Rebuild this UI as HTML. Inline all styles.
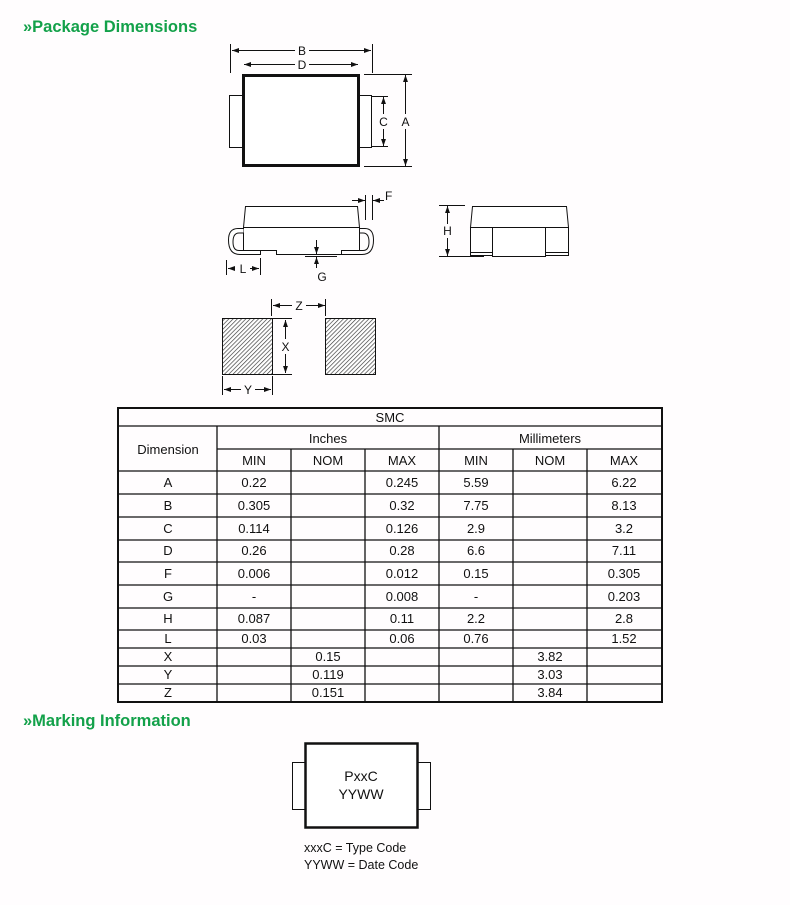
<!DOCTYPE html>
<html><head><meta charset="utf-8"><style>
html,body{margin:0;padding:0;background:#fffdfe;}
svg{display:block;font-family:"Liberation Sans",Arial,sans-serif;}
</style></head><body>
<svg width="790" height="905" viewBox="0 0 790 905" xmlns="http://www.w3.org/2000/svg">
<defs>
<marker id="ar" viewBox="0 0 10 10" refX="10" refY="5" markerWidth="7" markerHeight="7" orient="auto-start-reverse"><path d="M0,1.5 L10,5 L0,8.5 z" fill="#111"/></marker>
<pattern id="hat" width="3" height="3" patternUnits="userSpaceOnUse" patternTransform="rotate(45)"><rect width="3" height="3" fill="#fff"/><line x1="0" y1="0" x2="0" y2="3" stroke="#333" stroke-width="1.3"/></pattern>
</defs>
<rect width="790" height="905" fill="#fffdfe"/>
<text x="23" y="32" font-size="16.5" font-weight="bold" fill="#13a14a">»Package Dimensions</text>
<text x="23" y="726" font-size="16.5" font-weight="bold" fill="#13a14a">»Marking Information</text>

<g stroke="#111" fill="none" stroke-width="1">
<!-- top view -->
<rect x="229.5" y="95.5" width="13" height="52" fill="#fff"/>
<rect x="358.5" y="95.5" width="13" height="52" fill="#fff"/>
<rect x="243.5" y="75.5" width="115" height="90" stroke-width="3" fill="#fff"/>
<line x1="230.5" y1="44" x2="230.5" y2="73"/><line x1="372.5" y1="44" x2="372.5" y2="73"/>
<line x1="232" y1="50.5" x2="295" y2="50.5" marker-start="url(#ar)"/><line x1="309" y1="50.5" x2="371" y2="50.5" marker-end="url(#ar)"/>
<line x1="244" y1="64.5" x2="295" y2="64.5" marker-start="url(#ar)"/><line x1="309" y1="64.5" x2="358" y2="64.5" marker-end="url(#ar)"/>
<line x1="372" y1="96.5" x2="388" y2="96.5"/><line x1="372" y1="146.5" x2="388" y2="146.5"/>
<line x1="383.5" y1="97" x2="383.5" y2="114" marker-start="url(#ar)"/><line x1="383.5" y1="129" x2="383.5" y2="146" marker-end="url(#ar)"/>
<line x1="364" y1="74.5" x2="412" y2="74.5"/><line x1="364" y1="166.5" x2="412" y2="166.5"/>
<line x1="405.5" y1="75" x2="405.5" y2="114" marker-start="url(#ar)"/><line x1="405.5" y1="129" x2="405.5" y2="166" marker-end="url(#ar)"/>

<!-- side view -->
<path d="M243.5,227.5 L245.5,206.5 L357.5,206.5 L359.5,227.5 Z" fill="#fff"/>
<path d="M243.5,227.5 L359.5,227.5 L359.5,250.5 L341.5,250.5 L341.5,254.5 L276.5,254.5 L276.5,250.5 L260.5,250.5 L243.5,250.5 Z" fill="#fff"/>
<path d="M243.5,228.5 L238,228.5 Q228.5,228.5 228.5,240 Q228.5,254.5 240,254.5 L260.5,254.5 L260.5,250.5 L243.5,250.5 L239,250.5 Q233,250.5 233,242 Q233,233 239,233 L243.5,233" fill="#fff"/>
<path d="M359.5,228.5 L365,228.5 Q373.5,228.5 373.5,240 Q373.5,254.5 362,254.5 L341.5,254.5 L341.5,250.5 L359.5,250.5 L363,250.5 Q369,250.5 369,242 Q369,233 363,233 L359.5,233"/>
<line x1="365.5" y1="195" x2="365.5" y2="220"/><line x1="372.5" y1="195" x2="372.5" y2="220"/>
<line x1="352" y1="200.5" x2="365" y2="200.5" marker-end="url(#ar)"/><line x1="384" y1="200.5" x2="373" y2="200.5" marker-end="url(#ar)"/>
<line x1="316.5" y1="240" x2="316.5" y2="254" marker-end="url(#ar)"/>
<line x1="316.5" y1="268" x2="316.5" y2="257" marker-end="url(#ar)"/>
<line x1="305" y1="256.5" x2="337" y2="256.5"/>
<line x1="226.5" y1="260" x2="226.5" y2="275"/><line x1="260.5" y1="258" x2="260.5" y2="275"/>
<line x1="228" y1="268.5" x2="235" y2="268.5" marker-start="url(#ar)"/><line x1="250" y1="268.5" x2="259" y2="268.5" marker-end="url(#ar)"/>

<!-- end view -->
<path d="M470.5,227.5 L472.5,206.5 L566.5,206.5 L568.5,227.5 Z" fill="#fff"/>
<rect x="470.5" y="227.5" width="98" height="28" fill="#fff"/>
<line x1="470.5" y1="252.5" x2="493" y2="252.5"/><line x1="545" y1="252.5" x2="568" y2="252.5"/>
<rect x="492.5" y="227.5" width="53" height="29" fill="#fff"/>
<line x1="439" y1="205.5" x2="465" y2="205.5"/><line x1="439" y1="256.5" x2="484" y2="256.5"/>
<line x1="447.5" y1="206" x2="447.5" y2="224" marker-start="url(#ar)"/><line x1="447.5" y1="238" x2="447.5" y2="256" marker-end="url(#ar)"/>

<!-- pads -->
<rect x="222.5" y="318.5" width="50" height="56" fill="url(#hat)"/>
<rect x="325.5" y="318.5" width="50" height="56" fill="url(#hat)"/>
<line x1="271.5" y1="299" x2="271.5" y2="316"/><line x1="325.5" y1="299" x2="325.5" y2="316"/>
<line x1="273" y1="305.5" x2="292" y2="305.5" marker-start="url(#ar)"/><line x1="306" y1="305.5" x2="325" y2="305.5" marker-end="url(#ar)"/>
<line x1="273" y1="318.5" x2="292" y2="318.5"/><line x1="273" y1="374.5" x2="292" y2="374.5"/>
<line x1="285.5" y1="320" x2="285.5" y2="339" marker-start="url(#ar)"/><line x1="285.5" y1="354" x2="285.5" y2="373" marker-end="url(#ar)"/>
<line x1="222.5" y1="376" x2="222.5" y2="395"/><line x1="272.5" y1="376" x2="272.5" y2="395"/>
<line x1="224" y1="389.5" x2="241" y2="389.5" marker-start="url(#ar)"/><line x1="255" y1="389.5" x2="271" y2="389.5" marker-end="url(#ar)"/>

<!-- marking -->
<rect x="292.5" y="762.5" width="13" height="47" fill="#fff"/>
<rect x="417.5" y="762.5" width="13" height="47" fill="#fff"/>
<rect x="305.5" y="743.5" width="112" height="84" stroke-width="2.5" fill="#fff"/>
</g>

<g font-size="12" fill="#111" text-anchor="middle">
<text x="302" y="55">B</text><text x="302" y="69">D</text>
<text x="383.5" y="126">C</text><text x="405.5" y="126">A</text>
<text x="385" y="200" text-anchor="start">F</text>
<text x="322" y="281">G</text><text x="243" y="273">L</text>
<text x="447.5" y="235">H</text>
<text x="299" y="310">Z</text><text x="285.5" y="351">X</text><text x="248" y="394">Y</text>
</g>
<g font-size="14" fill="#111" text-anchor="middle">
<text x="361" y="781">PxxC</text><text x="361" y="799">YYWW</text>
</g>
<g font-size="12.5" fill="#111">
<text x="304" y="852">xxxC = Type Code</text><text x="304" y="869">YYWW = Date Code</text>
</g>

<!-- table -->
<g stroke="#111" stroke-width="1.3" fill="none">
<rect x="118" y="408" width="544" height="294" stroke-width="2"/>
<line x1="118" y1="426" x2="662" y2="426"/>
<line x1="217" y1="449" x2="662" y2="449"/>
<line x1="118" y1="471" x2="662" y2="471"/>
<line x1="118" y1="494" x2="662" y2="494"/>
<line x1="118" y1="517" x2="662" y2="517"/>
<line x1="118" y1="540" x2="662" y2="540"/>
<line x1="118" y1="562" x2="662" y2="562"/>
<line x1="118" y1="585" x2="662" y2="585"/>
<line x1="118" y1="608" x2="662" y2="608"/>
<line x1="118" y1="630" x2="662" y2="630"/>
<line x1="118" y1="648" x2="662" y2="648"/>
<line x1="118" y1="666" x2="662" y2="666"/>
<line x1="118" y1="684" x2="662" y2="684"/>
<line x1="217" y1="426" x2="217" y2="702"/>
<line x1="439" y1="426" x2="439" y2="702"/>
<line x1="291" y1="449" x2="291" y2="702"/>
<line x1="365" y1="449" x2="365" y2="702"/>
<line x1="513" y1="449" x2="513" y2="702"/>
<line x1="587" y1="449" x2="587" y2="702"/>
</g>
<g font-size="13" fill="#111" text-anchor="middle">
<text x="390" y="422">SMC</text>
<text x="168" y="454">Dimension</text>
<text x="328" y="443">Inches</text><text x="550" y="443">Millimeters</text>
<text x="254" y="465">MIN</text><text x="328" y="465">NOM</text><text x="402" y="465">MAX</text>
<text x="476" y="465">MIN</text><text x="550" y="465">NOM</text><text x="624" y="465">MAX</text>
</g>
<g font-size="13" fill="#111" text-anchor="middle">
<text x="168" y="487">A</text><text x="254" y="487">0.22</text><text x="402" y="487">0.245</text><text x="476" y="487">5.59</text><text x="624" y="487">6.22</text>
<text x="168" y="510">B</text><text x="254" y="510">0.305</text><text x="402" y="510">0.32</text><text x="476" y="510">7.75</text><text x="624" y="510">8.13</text>
<text x="168" y="533">C</text><text x="254" y="533">0.114</text><text x="402" y="533">0.126</text><text x="476" y="533">2.9</text><text x="624" y="533">3.2</text>
<text x="168" y="555">D</text><text x="254" y="555">0.26</text><text x="402" y="555">0.28</text><text x="476" y="555">6.6</text><text x="624" y="555">7.11</text>
<text x="168" y="578">F</text><text x="254" y="578">0.006</text><text x="402" y="578">0.012</text><text x="476" y="578">0.15</text><text x="624" y="578">0.305</text>
<text x="168" y="601">G</text><text x="254" y="601">-</text><text x="402" y="601">0.008</text><text x="476" y="601">-</text><text x="624" y="601">0.203</text>
<text x="168" y="623">H</text><text x="254" y="623">0.087</text><text x="402" y="623">0.11</text><text x="476" y="623">2.2</text><text x="624" y="623">2.8</text>
<text x="168" y="643">L</text><text x="254" y="643">0.03</text><text x="402" y="643">0.06</text><text x="476" y="643">0.76</text><text x="624" y="643">1.52</text>
<text x="168" y="661">X</text><text x="328" y="661">0.15</text><text x="550" y="661">3.82</text>
<text x="168" y="679">Y</text><text x="328" y="679">0.119</text><text x="550" y="679">3.03</text>
<text x="168" y="697">Z</text><text x="328" y="697">0.151</text><text x="550" y="697">3.84</text>
</g>
</svg>
</body></html>
